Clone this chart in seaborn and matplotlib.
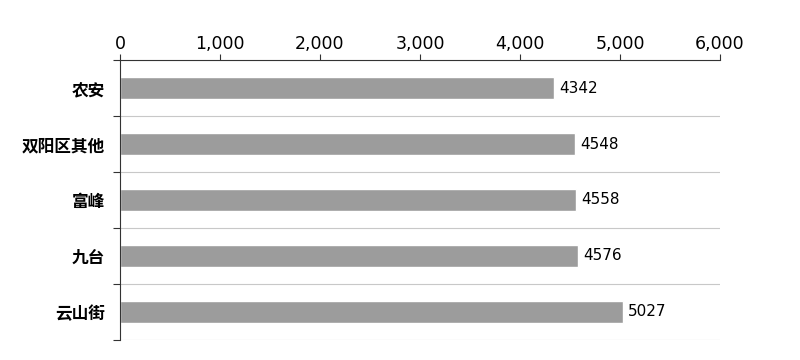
import matplotlib
matplotlib.use("Agg")
import matplotlib.pyplot as plt
import seaborn as sns
import pandas as pd
import numpy as np
from matplotlib.ticker import FuncFormatter, FixedLocator

categories = ["农安", "双阳区其他", "富峰", "九台", "云山街"]
values = [4342, 4548, 4558, 4576, 5027]
xticks = [0, 1000, 2000, 3000, 4000, 5000, 6000]

sns.set_theme(style="white")
plt.rcParams['font.family'] = ['Noto Sans CJK SC', 'DejaVu Sans']

df = pd.DataFrame({"cat": categories, "val": values})

fig = plt.figure(figsize=(8, 3.6), dpi=100)
ax = fig.add_axes([0.15, 0.0556, 0.75, 0.7777])
sns.barplot(data=df, y="cat", x="val", orient="h", width=0.41,
            color="#9c9c9c", saturation=1, ax=ax)

ax.set_xlim(0, 6000)
ax.set_ylim(len(categories) - 0.5, -0.5)
ax.set_xlabel("")
ax.set_ylabel("")
ax.xaxis.tick_top()
ax.set_xticks(xticks)
ax.xaxis.set_major_formatter(FuncFormatter(lambda v, p: f"{int(v):,}"))
ax.tick_params(axis="x", which="major", top=True, bottom=False, length=4,
               width=0.8, color="#333333", labelsize=12.5, pad=1, labelcolor="black",
               labelfontfamily="DejaVu Sans")

ax.yaxis.set_minor_locator(FixedLocator(np.arange(-0.5, len(categories), 1.0)))
ax.tick_params(axis="y", which="major", left=False, length=0, labelsize=12, pad=11)
ax.tick_params(axis="y", which="minor", left=True, length=5, width=0.8, color="#333333")
for lbl in ax.get_yticklabels():
    lbl.set_fontweight("bold")
    lbl.set_color("black")

ax.grid(False)
ax.yaxis.grid(True, which="minor", color="#c8c8c8", linewidth=0.8)
ax.set_axisbelow(True)

for s in ["right", "bottom"]:
    ax.spines[s].set_visible(False)
ax.spines["top"].set_color("#333333")
ax.spines["left"].set_color("#333333")
ax.spines["top"].set_linewidth(0.8)
ax.spines["left"].set_linewidth(0.8)

for i, v in enumerate(values):
    ax.text(v + 55, i, str(v), va="center", ha="left", fontsize=11,
            fontfamily="DejaVu Sans", color="black")

fig.savefig("out.png", dpi=100)
